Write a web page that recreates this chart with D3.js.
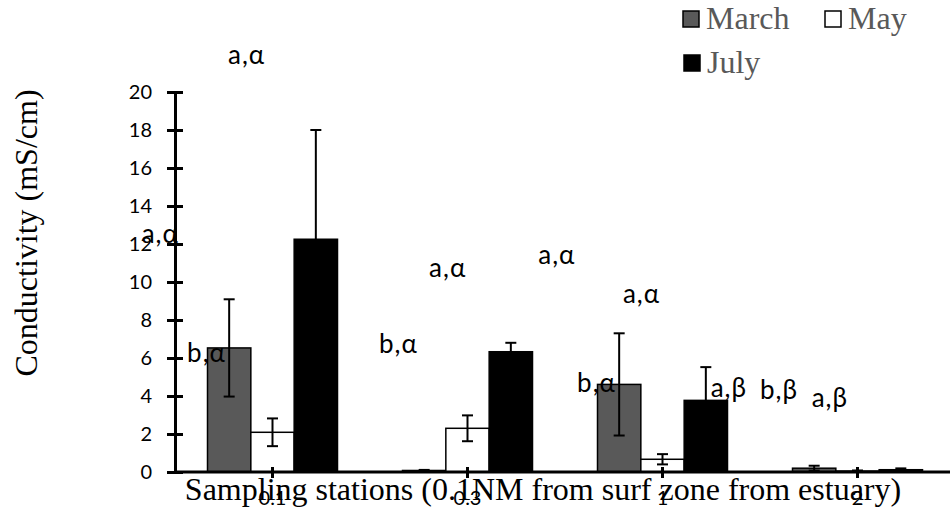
<!DOCTYPE html>
<html><head><meta charset="utf-8">
<script src="https://cdn.jsdelivr.net/npm/d3@7"></script>
<style>
html,body{margin:0;padding:0;background:#fff;}
svg{display:block;}
</style></head>
<body>
<svg id="chart" width="950" height="518"></svg>
<script>
const stations = ["0.1", "0.3", "1", "2"];
const seriesNames = ["March", "May", "July"];
const seriesColors = ["#595959", "#ffffff", "#000000"];
const marchValues = [6.53, 0.08, 4.61, 0.2];
const marchErrors = [2.56, 0.03, 2.69, 0.13];
const mayValues = [2.09, 2.3, 0.67, 0.05];
const mayErrors = [0.73, 0.68, 0.27, 0.03];
const julyValues = [12.25, 6.33, 3.77, 0.12];
const julyErrors = [5.75, 0.47, 1.75, 0.07];
const yTicks = [0, 2, 4, 6, 8, 10, 12, 14, 16, 18, 20];
// annotation labels: station, horizontal offset in band units from station centre, height in data units
const annoText = ["a,α", "a,α", "b,α", "b,α", "a,α", "a,α", "a,α", "b,α", "a,β", "b,β", "a,β"];
const annoStation = ["0.1", "0.1", "0.1", "0.3", "0.3", "0.3", "1", "1", "1", "2", "2"];
const annoOffset = [-0.228, -0.671, -0.438, -0.454, -0.197, 0.363, -0.203, -0.438, 0.247, -0.5, -0.235];
const annoHeight = [21.5, 12.05, 5.8, 6.28, 10.28, 10.93, 8.88, 4.23, 3.93, 3.83, 3.44];

const allValues = [marchValues, mayValues, julyValues];
const allErrors = [marchErrors, mayErrors, julyErrors];
const data = [];
stations.forEach((s, i) => seriesNames.forEach((n, j) => data.push({station: s, series: n, value: allValues[j][i], err: allErrors[j][i], color: seriesColors[j]})));

const svg = d3.select("#chart");
const x = d3.scaleBand().domain(stations).range([175, 955]).paddingInner(0).paddingOuter(0);
const xs = d3.scaleBand().domain(seriesNames).range([0, x.bandwidth()]).paddingInner(0).paddingOuter(0.75);
const y = d3.scaleLinear().domain([0, 20]).range([472, 92]);

const sansFont = "Lato, 'Open Sans', sans-serif";
const serifFont = "'Liberation Serif', 'Times New Roman', serif";

// bars
svg.append("g").selectAll("rect").data(data).join("rect")
  .attr("x", d => x(d.station) + xs(d.series))
  .attr("width", xs.bandwidth())
  .attr("y", d => y(d.value))
  .attr("height", d => y(0) - y(d.value))
  .attr("fill", d => d.color)
  .attr("stroke", "#000").attr("stroke-width", 1.5);

// error bars
const eb = svg.append("g").attr("stroke", "#000").attr("stroke-width", 2);
data.forEach(d => {
  const cx = x(d.station) + xs(d.series) + xs.bandwidth() / 2;
  const hi = y(d.value + d.err), lo = y(Math.max(0, d.value - d.err));
  eb.append("line").attr("x1", cx).attr("x2", cx).attr("y1", hi).attr("y2", lo);
  eb.append("line").attr("x1", cx - 5.5).attr("x2", cx + 5.5).attr("y1", hi).attr("y2", hi);
  eb.append("line").attr("x1", cx - 5.5).attr("x2", cx + 5.5).attr("y1", lo).attr("y2", lo);
});

// y axis
const yAxis = svg.append("g").attr("transform", "translate(175,0)")
  .call(d3.axisLeft(y).tickValues(yTicks).tickSizeOuter(0).tickSizeInner(8).tickPadding(15));
yAxis.select(".domain").attr("stroke", "#000").attr("stroke-width", 3);
yAxis.selectAll(".tick line").attr("x1", 8).attr("x2", -8).attr("stroke", "#000").attr("stroke-width", 3);
yAxis.selectAll(".tick text").attr("font-family", sansFont).attr("font-size", 20).attr("fill", "#000");

// x axis
const xAxis = svg.append("g").attr("transform", "translate(0," + y(0) + ")")
  .call(d3.axisBottom(x).tickSizeOuter(0).tickSizeInner(6).tickPadding(13));
xAxis.select(".domain").attr("stroke", "#000").attr("stroke-width", 3).attr("d", "M175,0H950");
xAxis.selectAll(".tick line").attr("y1", -5).attr("y2", 6).attr("stroke", "#000").attr("stroke-width", 3);
xAxis.selectAll(".tick text").attr("font-family", sansFont).attr("font-size", 20).attr("fill", "#000");

// axis titles
svg.append("text").attr("x", 543).attr("y", 500).attr("text-anchor", "middle")
  .attr("font-family", serifFont).attr("font-size", 32).attr("fill", "#000")
  .text("Sampling stations (0.1NM from surf zone from estuary)");
svg.append("text").attr("transform", "translate(37,233) rotate(-90)").attr("text-anchor", "middle")
  .attr("font-family", serifFont).attr("font-size", 32).attr("fill", "#000")
  .text("Conductivity (mS/cm)");

// annotations
const anno = svg.append("g").attr("font-family", sansFont).attr("font-size", 26).attr("fill", "#000");
annoText.forEach((t, i) => {
  anno.append("text")
    .attr("x", x(annoStation[i]) + x.bandwidth() / 2 + annoOffset[i] * x.bandwidth())
    .attr("y", y(annoHeight[i]))
    .attr("letter-spacing", 1)
    .text(t);
});

// legend
const legendPos = [[683, 11], [825, 11], [684, 55]];
const lg = svg.append("g");
seriesNames.forEach((n, j) => {
  const g = lg.append("g").attr("transform", "translate(" + legendPos[j][0] + "," + legendPos[j][1] + ")");
  g.append("rect").attr("x", 0).attr("y", 0).attr("width", 16).attr("height", 16)
    .attr("fill", seriesColors[j]).attr("stroke", "#000").attr("stroke-width", 1.5);
  g.append("text").attr("x", 23).attr("y", 18).attr("font-family", serifFont)
    .attr("font-size", 32).attr("fill", "#595959").text(n);
});
</script>
</body></html>
